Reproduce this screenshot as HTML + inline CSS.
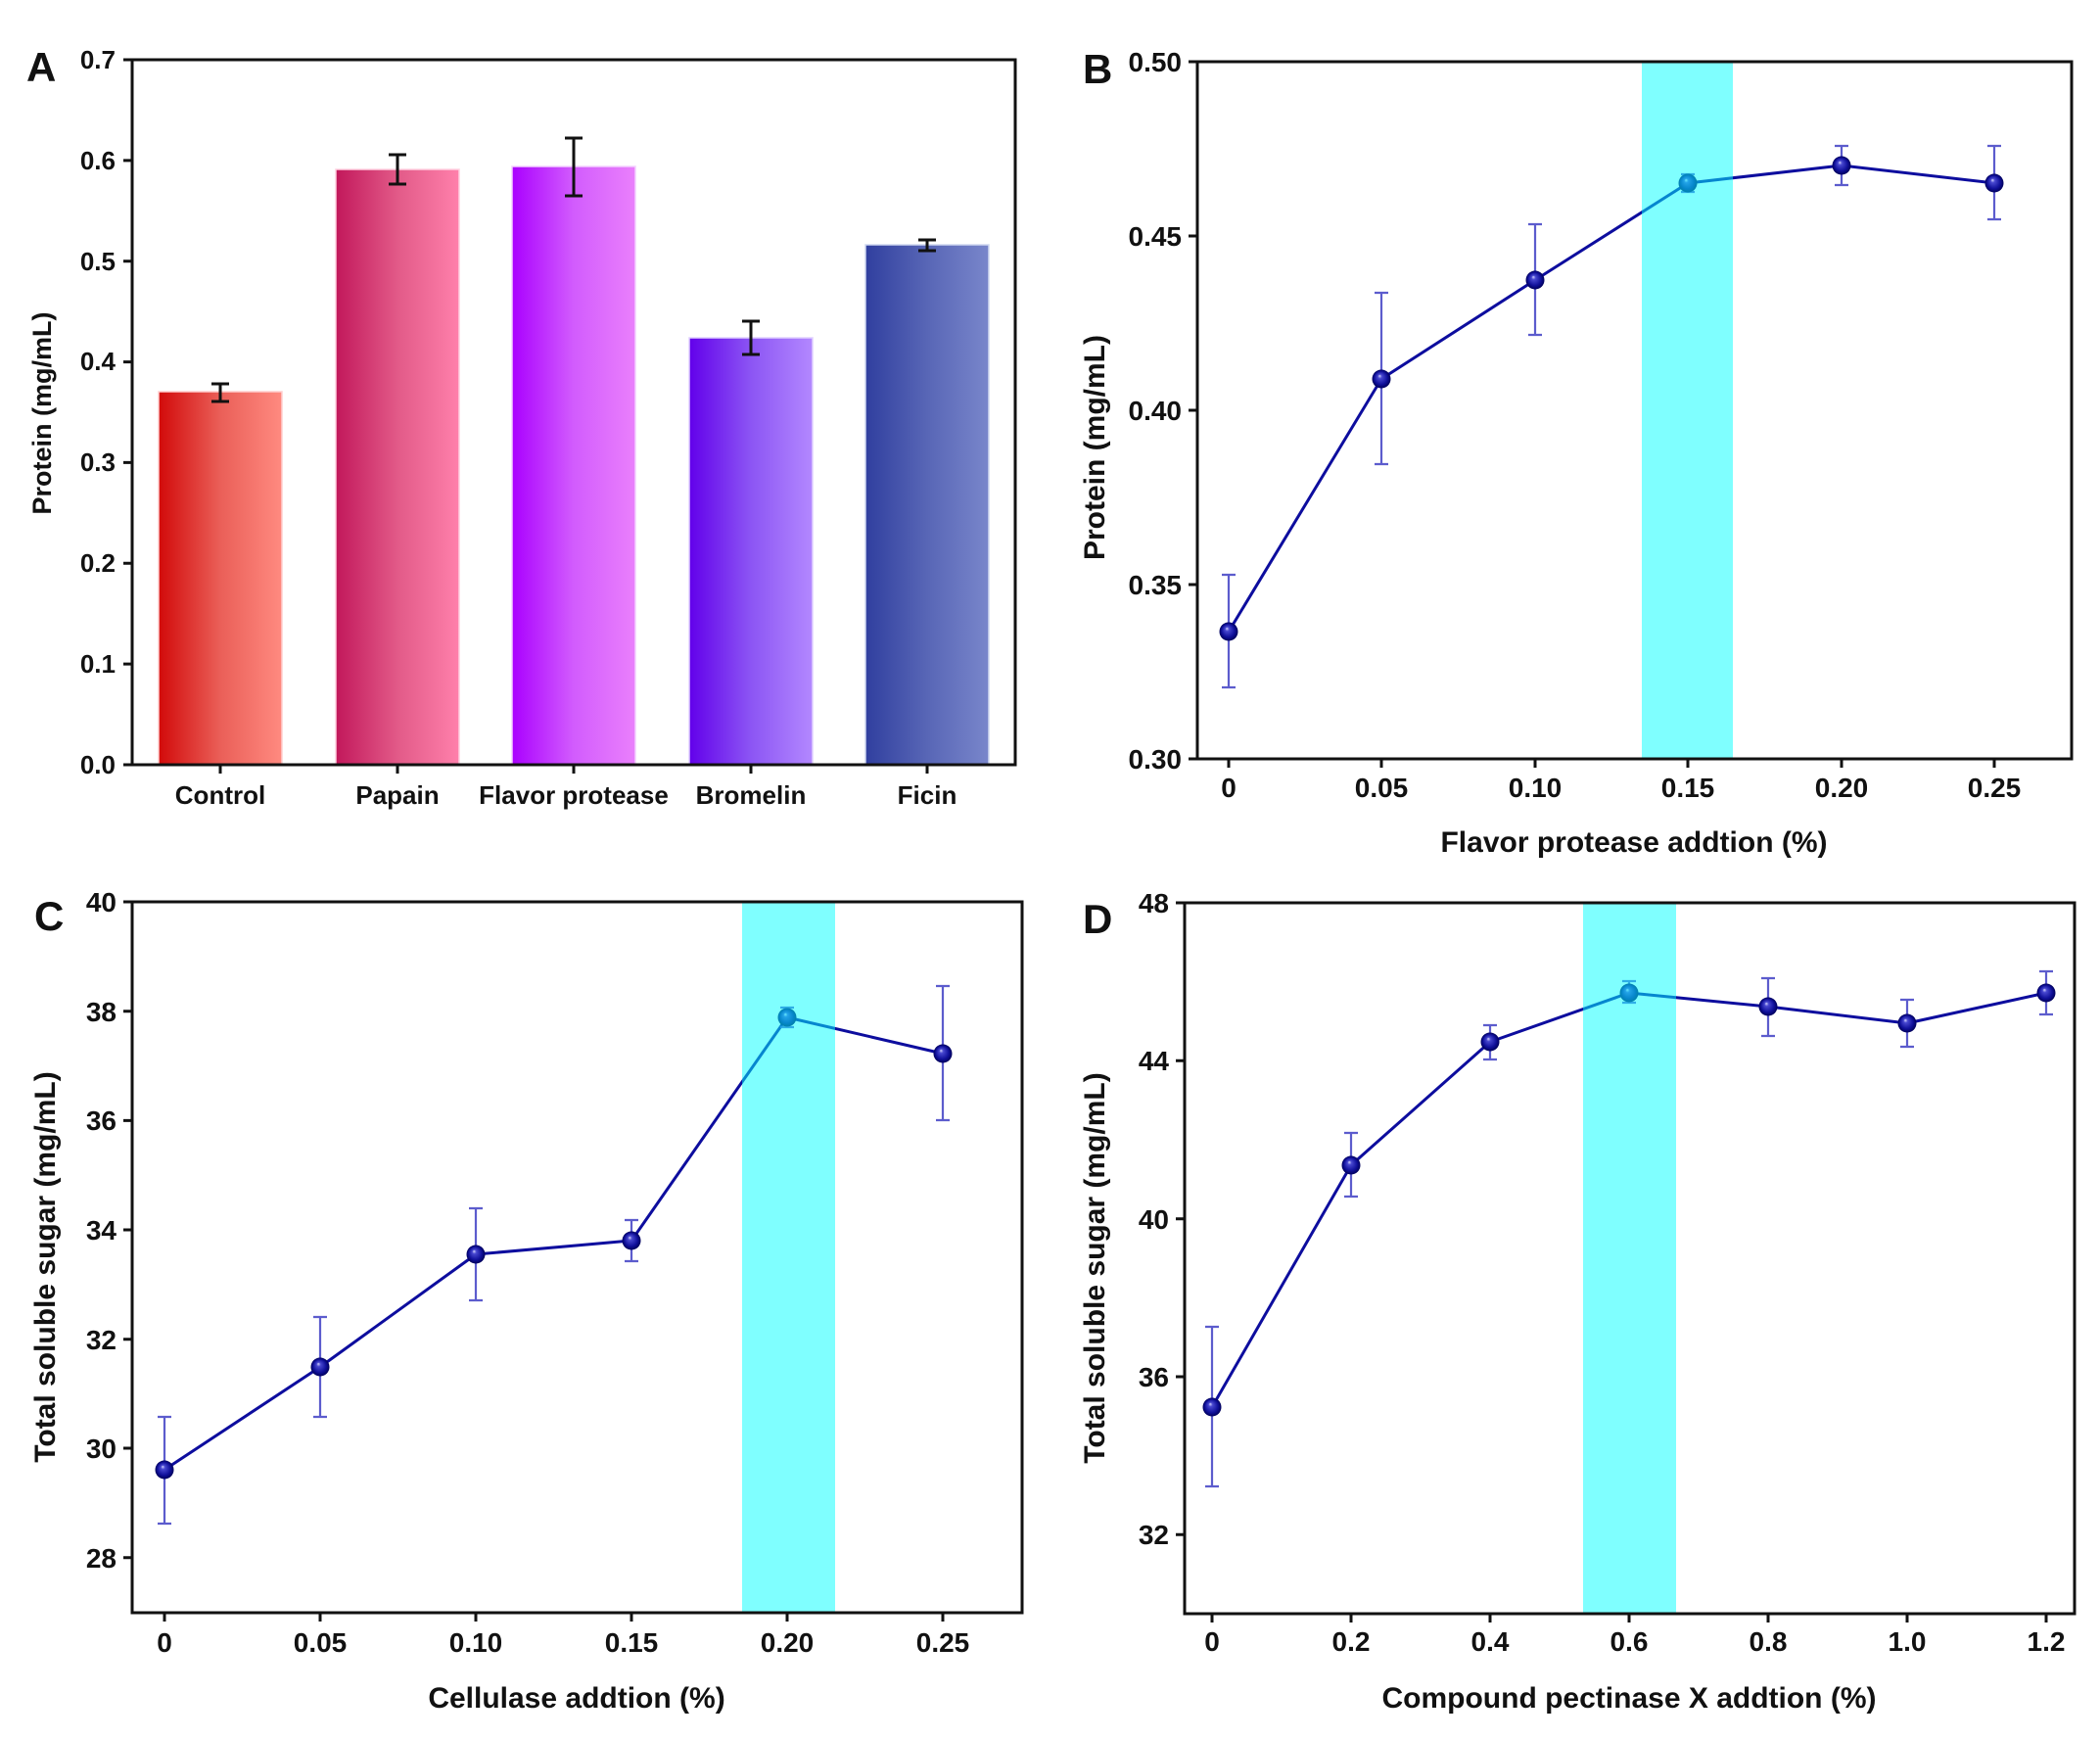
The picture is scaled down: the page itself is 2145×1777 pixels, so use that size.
<!DOCTYPE html>
<html>
<head>
<meta charset="utf-8">
<style>
html,body{margin:0;padding:0;background:#fff;}
svg{display:block;}
text{font-family:"Liberation Sans",Arial,sans-serif;font-weight:bold;fill:#111;}
</style>
</head>
<body>
<svg width="2145" height="1777" viewBox="0 0 2145 1777" xmlns="http://www.w3.org/2000/svg">
<defs>
<linearGradient id="gC" x1="0" x2="1" y1="0" y2="0"><stop offset="0" stop-color="#d20a0a"/><stop offset="0.5" stop-color="#ea5f58"/><stop offset="1" stop-color="#ff8a80"/></linearGradient>
<linearGradient id="gP" x1="0" x2="1" y1="0" y2="0"><stop offset="0" stop-color="#c2185b"/><stop offset="0.5" stop-color="#e25a88"/><stop offset="1" stop-color="#ff80ab"/></linearGradient>
<linearGradient id="gF" x1="0" x2="1" y1="0" y2="0"><stop offset="0" stop-color="#aa00ff"/><stop offset="0.5" stop-color="#d25cfd"/><stop offset="1" stop-color="#ea80fc"/></linearGradient>
<linearGradient id="gB" x1="0" x2="1" y1="0" y2="0"><stop offset="0" stop-color="#6200ea"/><stop offset="0.5" stop-color="#8c55f4"/><stop offset="1" stop-color="#b388ff"/></linearGradient>
<linearGradient id="gI" x1="0" x2="1" y1="0" y2="0"><stop offset="0" stop-color="#303f9f"/><stop offset="0.5" stop-color="#5866b6"/><stop offset="1" stop-color="#7986cb"/></linearGradient>
<radialGradient id="ball" cx="0.5" cy="0.5" r="0.5" fx="0.4" fy="0.33"><stop offset="0" stop-color="#d8d8ff"/><stop offset="0.22" stop-color="#4848d0"/><stop offset="0.7" stop-color="#10109a"/><stop offset="1" stop-color="#00005a"/></radialGradient>
</defs>

<!-- ================= Panel A ================= -->
<g>
<rect x="162" y="400" width="126" height="381" fill="url(#gC)" stroke="#ffd0d0" stroke-width="1.5"/>
<rect x="343" y="173" width="126" height="608" fill="url(#gP)" stroke="#ffd0e0" stroke-width="1.5"/>
<rect x="523" y="170" width="126" height="611" fill="url(#gF)" stroke="#f4d0ff" stroke-width="1.5"/>
<rect x="704" y="345" width="126" height="436" fill="url(#gB)" stroke="#e0d0ff" stroke-width="1.5"/>
<rect x="884" y="250" width="126" height="531" fill="url(#gI)" stroke="#d0d8f0" stroke-width="1.5"/>
<path d="M225 392V410M216 392H234M216 410H234 M406 158V188M397 158H415M397 188H415 M586 141V200M577 141H595M577 200H595 M767 328V362M758 328H776M758 362H776 M947 245V256M938 245H956M938 256H956" stroke="#111" stroke-width="3" fill="none"/>
<rect x="135" y="61" width="902" height="720" fill="none" stroke="#111" stroke-width="3"/>
<path d="M126 781H135M126 678.1H135M126 575.3H135M126 472.4H135M126 369.6H135M126 266.7H135M126 163.9H135M126 61H135 M225 781V790M406 781V790M586 781V790M767 781V790M947 781V790" stroke="#111" stroke-width="3"/>
<g font-size="26" text-anchor="end">
<text x="118" y="790">0.0</text>
<text x="118" y="687">0.1</text>
<text x="118" y="584">0.2</text>
<text x="118" y="481">0.3</text>
<text x="118" y="378">0.4</text>
<text x="118" y="276">0.5</text>
<text x="118" y="173">0.6</text>
<text x="118" y="70">0.7</text>
</g>
<g font-size="26" text-anchor="middle">
<text x="225" y="821">Control</text>
<text x="406" y="821">Papain</text>
<text x="586" y="821">Flavor protease</text>
<text x="767" y="821">Bromelin</text>
<text x="947" y="821">Ficin</text>
</g>
<text font-size="27" text-anchor="middle" transform="translate(45,422) rotate(-90)" y="7">Protein (mg/mL)</text>
<text font-size="42" x="27" y="83">A</text>
</g>

<!-- ================= Panel B ================= -->
<g>
<polyline points="1255,645 1411,387 1568,286 1724,187 1881,169 2037,187" fill="none" stroke="#0d0d9e" stroke-width="3" stroke-linejoin="round"/>
<path d="M1255 587V702M1248 587H1262M1248 702H1262 M1411 299V474M1404 299H1418M1404 474H1418 M1568 229V342M1561 229H1575M1561 342H1575 M1724 178V196M1717 178H1731M1717 196H1731 M1881 149V189M1874 149H1888M1874 189H1888 M2037 149V224M2030 149H2044M2030 224H2044" stroke="#4a4ac8" stroke-width="2.2" fill="none" opacity="0.9"/>
<g fill="url(#ball)">
<circle cx="1255" cy="645" r="9.5"/><circle cx="1411" cy="387" r="9.5"/><circle cx="1568" cy="286" r="9.5"/><circle cx="1724" cy="187" r="9.5"/><circle cx="1881" cy="169" r="9.5"/><circle cx="2037" cy="187" r="9.5"/>
</g>
<rect x="1677" y="63" width="93" height="712" fill="#00ffff" opacity="0.5"/>
<rect x="1223" y="63" width="893" height="712" fill="none" stroke="#111" stroke-width="3"/>
<path d="M1214 775H1223M1214 597H1223M1214 419H1223M1214 241H1223M1214 63H1223 M1255 775V784M1411 775V784M1568 775V784M1724 775V784M1881 775V784M2037 775V784" stroke="#111" stroke-width="3"/>
<g font-size="28" text-anchor="end">
<text x="1207" y="785">0.30</text>
<text x="1207" y="607">0.35</text>
<text x="1207" y="429">0.40</text>
<text x="1207" y="251">0.45</text>
<text x="1207" y="73">0.50</text>
</g>
<g font-size="28" text-anchor="middle">
<text x="1255" y="814">0</text>
<text x="1411" y="814">0.05</text>
<text x="1568" y="814">0.10</text>
<text x="1724" y="814">0.15</text>
<text x="1881" y="814">0.20</text>
<text x="2037" y="814">0.25</text>
</g>
<text font-size="30" text-anchor="middle" x="1669" y="870">Flavor protease addtion (%)</text>
<text font-size="30" text-anchor="middle" transform="translate(1120,457) rotate(-90)" y="8">Protein (mg/mL)</text>
<text font-size="42" x="1106" y="85">B</text>
</g>

<!-- ================= Panel C ================= -->
<g>
<polyline points="168,1501 327,1396 486,1281 645,1267 804,1039 963,1076" fill="none" stroke="#0d0d9e" stroke-width="3" stroke-linejoin="round"/>
<path d="M168 1447V1556M161 1447H175M161 1556H175 M327 1345V1447M320 1345H334M320 1447H334 M486 1234V1328M479 1234H493M479 1328H493 M645 1246V1288M638 1246H652M638 1288H652 M804 1029V1049M797 1029H811M797 1049H811 M963 1007V1144M956 1007H970M956 1144H970" stroke="#4a4ac8" stroke-width="2.2" fill="none" opacity="0.9"/>
<g fill="url(#ball)">
<circle cx="168" cy="1501" r="9.5"/><circle cx="327" cy="1396" r="9.5"/><circle cx="486" cy="1281" r="9.5"/><circle cx="645" cy="1267" r="9.5"/><circle cx="804" cy="1039" r="9.5"/><circle cx="963" cy="1076" r="9.5"/>
</g>
<rect x="758" y="921" width="95" height="726" fill="#00ffff" opacity="0.5"/>
<rect x="135" y="921" width="909" height="726" fill="none" stroke="#111" stroke-width="3"/>
<path d="M126 921H135M126 1032.7H135M126 1144.4H135M126 1256H135M126 1367.7H135M126 1479H135M126 1590.7H135 M168 1647V1656M327 1647V1656M486 1647V1656M645 1647V1656M804 1647V1656M963 1647V1656" stroke="#111" stroke-width="3"/>
<g font-size="28" text-anchor="end">
<text x="119" y="931">40</text>
<text x="119" y="1043">38</text>
<text x="119" y="1154">36</text>
<text x="119" y="1266">34</text>
<text x="119" y="1378">32</text>
<text x="119" y="1489">30</text>
<text x="119" y="1601">28</text>
</g>
<g font-size="28" text-anchor="middle">
<text x="168" y="1687">0</text>
<text x="327" y="1687">0.05</text>
<text x="486" y="1687">0.10</text>
<text x="645" y="1687">0.15</text>
<text x="804" y="1687">0.20</text>
<text x="963" y="1687">0.25</text>
</g>
<text font-size="30" text-anchor="middle" x="589" y="1744">Cellulase addtion (%)</text>
<text font-size="30" text-anchor="middle" transform="translate(48,1294) rotate(-90)" y="8">Total soluble sugar (mg/mL)</text>
<text font-size="42" x="35" y="950">C</text>
</g>

<!-- ================= Panel D ================= -->
<g>
<polyline points="1238,1437 1380,1190 1522,1064 1664,1014 1806,1028 1948,1045 2090,1014" fill="none" stroke="#0d0d9e" stroke-width="3" stroke-linejoin="round"/>
<path d="M1238 1355V1518M1231 1355H1245M1231 1518H1245 M1380 1157V1222M1373 1157H1387M1373 1222H1387 M1522 1047V1082M1515 1047H1529M1515 1082H1529 M1664 1002V1024M1657 1002H1671M1657 1024H1671 M1806 999V1058M1799 999H1813M1799 1058H1813 M1948 1021V1069M1941 1021H1955M1941 1069H1955 M2090 992V1036M2083 992H2097M2083 1036H2097" stroke="#4a4ac8" stroke-width="2.2" fill="none" opacity="0.9"/>
<g fill="url(#ball)">
<circle cx="1238" cy="1437" r="9.5"/><circle cx="1380" cy="1190" r="9.5"/><circle cx="1522" cy="1064" r="9.5"/><circle cx="1664" cy="1014" r="9.5"/><circle cx="1806" cy="1028" r="9.5"/><circle cx="1948" cy="1045" r="9.5"/><circle cx="2090" cy="1014" r="9.5"/>
</g>
<rect x="1617" y="922" width="95" height="726" fill="#00ffff" opacity="0.5"/>
<rect x="1210" y="922" width="909" height="726" fill="none" stroke="#111" stroke-width="3"/>
<path d="M1201 922H1210M1201 1083.3H1210M1201 1244.7H1210M1201 1406H1210M1201 1567.3H1210 M1238 1648V1657M1380 1648V1657M1522 1648V1657M1664 1648V1657M1806 1648V1657M1948 1648V1657M2090 1648V1657" stroke="#111" stroke-width="3"/>
<g font-size="28" text-anchor="end">
<text x="1194" y="932">48</text>
<text x="1194" y="1093">44</text>
<text x="1194" y="1255">40</text>
<text x="1194" y="1416">36</text>
<text x="1194" y="1577">32</text>
</g>
<g font-size="28" text-anchor="middle">
<text x="1238" y="1686">0</text>
<text x="1380" y="1686">0.2</text>
<text x="1522" y="1686">0.4</text>
<text x="1664" y="1686">0.6</text>
<text x="1806" y="1686">0.8</text>
<text x="1948" y="1686">1.0</text>
<text x="2090" y="1686">1.2</text>
</g>
<text font-size="30" text-anchor="middle" x="1664" y="1744">Compound pectinase X addtion (%)</text>
<text font-size="30" text-anchor="middle" transform="translate(1120,1295) rotate(-90)" y="8">Total soluble sugar (mg/mL)</text>
<text font-size="42" x="1106" y="953">D</text>
</g>
</svg>
</body>
</html>
